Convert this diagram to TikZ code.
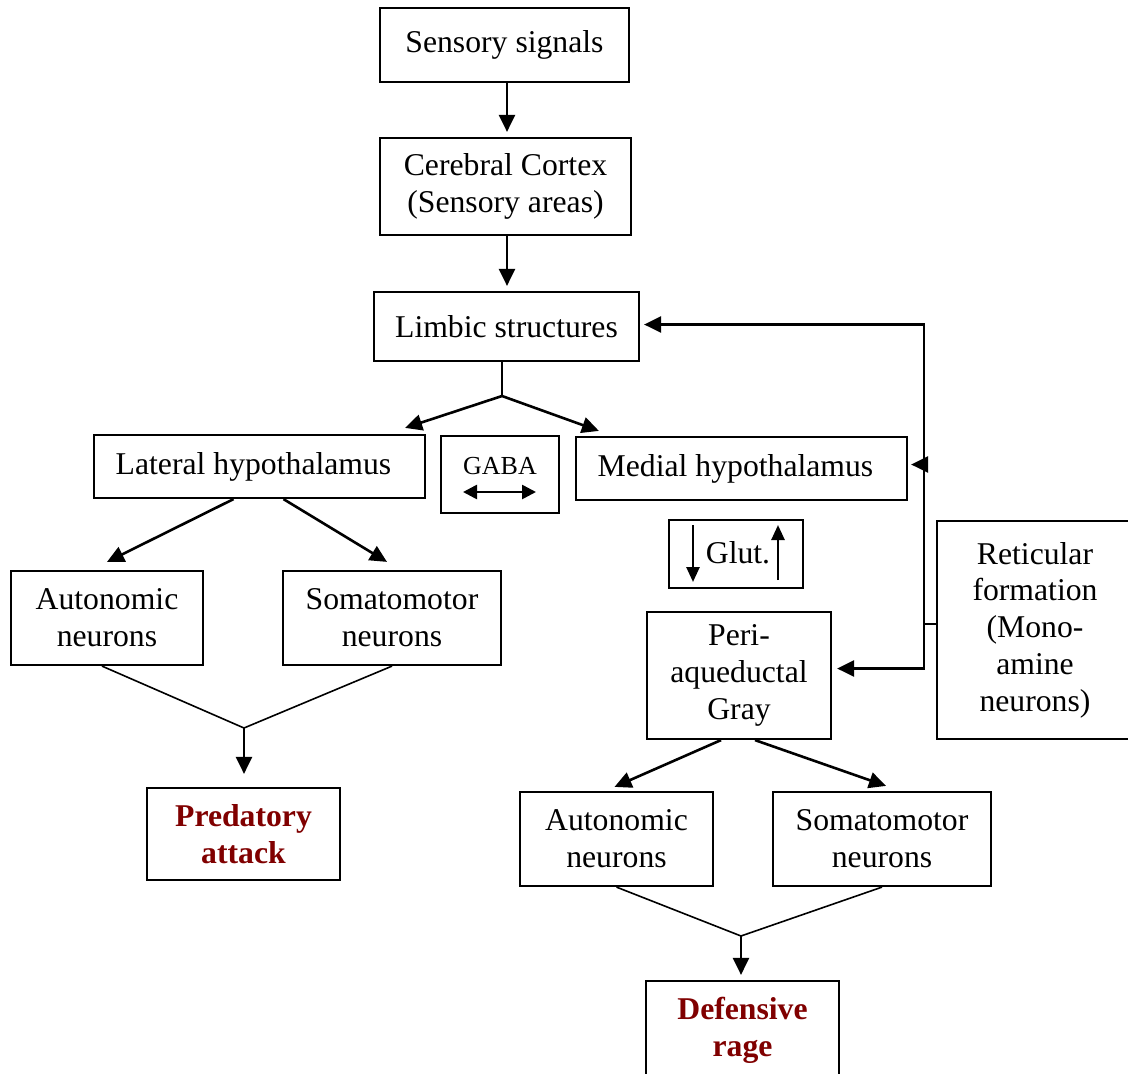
\documentclass[tikz,border=0pt]{standalone}
\usepackage{fontspec}
\setmainfont{Liberation Serif}
\usepackage{xcolor}
\usetikzlibrary{arrows.meta}
\definecolor{ragered}{RGB}{128,0,0}

\begin{document}
\begin{tikzpicture}[x=1pt,y=-1pt,
    box/.style={draw,line width=2.2pt,inner sep=0pt,align=center,font=\fontsize{31.7}{36.7}\selectfont},
    outbox/.style={box,text=ragered,font=\fontsize{31.7}{36.7}\selectfont\bfseries},
    arr/.style={line width=2.6pt,-{Triangle[length=17pt,width=16pt]}},
    mergeline/.style={line width=1.6pt}]
    \useasboundingbox (0,0) rectangle (1128,1074);
    % top chain
    \node[box,minimum width=249,minimum height=74] (sens) at (504.5,45) {Sensory signals};
    \node[box,minimum width=251,minimum height=97] (cortex) at (505.5,186.5) {Cerebral Cortex\\(Sensory areas)};
    \node[box,minimum width=265,minimum height=69] (limbic) at (506.5,326.5) {Limbic structures};
    \draw[arr,shorten >=5pt] ([xshift=2.5pt]sens.south) -- ([xshift=2.5pt]sens.south |- cortex.north);
    \draw[arr,shorten >=5pt] ([xshift=1.5pt]cortex.south) -- ([xshift=1.5pt]cortex.south |- limbic.north);
    % hypothalamus row
    \node[box,minimum width=331,minimum height=63] (lath) at (259.5,466.5) {Lateral hypothalamus\hspace*{12pt}};
    \node[box,minimum width=331,minimum height=63] (medial) at (741.5,468.5) {Medial hypothalamus\hspace*{12pt}};
    \node[box,minimum width=118,minimum height=77] (gaba) at (500,474.5) {};
    \node[font=\fontsize{26}{30}\selectfont,inner sep=0pt] (gabatxt) at (500,466) {GABA};
    \draw[line width=2.6pt,{Triangle[length=14pt,width=14pt]}-{Triangle[length=14pt,width=14pt]}]
        ([xshift=-37pt,yshift=-17.5pt]gaba.center) -- ([xshift=36pt,yshift=-17.5pt]gaba.center);
    \coordinate (lsplit) at (502,396);
    \draw[mergeline] ([xshift=-4.5pt]limbic.south) -- (lsplit);
    \draw[arr] (lsplit) -- ([xshift=-21pt,yshift=6pt]lath.north east);
    \draw[arr] (lsplit) -- ([xshift=24pt,yshift=5pt]medial.north west);
    % glutamate and periaqueductal gray
    \node[box,minimum width=134,minimum height=68] (glut) at (736,554) {};
    \node[font=\fontsize{31.7}{36.7}\selectfont,inner sep=0pt] (gluttxt) at (738,553) {Glut.};
    \draw[arr,-{Triangle[length=15pt,width=13pt]}] ([xshift=-43pt,yshift=29pt]glut.center) -- ([xshift=-43pt,yshift=-28pt]glut.center);
    \draw[arr,-{Triangle[length=15pt,width=13pt]}] ([xshift=42pt,yshift=-26pt]glut.center) -- ([xshift=42pt,yshift=29pt]glut.center);
    \node[box,minimum width=184,minimum height=127] (pag) at (739,675.5) {Peri-\\aqueductal\\Gray};
    \node[box,minimum width=196,minimum height=218] (retic) at (1035,630) {Reticular\\formation\\(Mono-\\amine\\neurons)};
    % reticular feedback
    \coordinate (fb) at (924,624);
    \draw[line width=2.6pt] ([yshift=6pt]retic.west) -- (fb);
    \draw[arr,shorten >=4pt] (fb) |- ([yshift=2pt]limbic.east);
    \draw[arr,shorten >=3pt] (fb) |- ([yshift=4pt]medial.east);
    \draw[arr,shorten >=5pt] (fb) |- ([yshift=7pt]pag.east);
    % predatory branch
    \node[box,minimum width=192,minimum height=94] (autL) at (107,618) {Autonomic\\neurons};
    \node[box,minimum width=218,minimum height=94] (somL) at (392,618) {Somatomotor\\neurons};
    \node[outbox,minimum width=193,minimum height=92] (pred) at (243.5,834) {Predatory\\attack};
    \draw[arr] ([xshift=-26pt]lath.south) -- ([yshift=8pt]autL.north);
    \draw[arr] ([xshift=24pt]lath.south) -- ([xshift=-5pt,yshift=8pt]somL.north);
    \coordinate (pjoin) at (244,728);
    \draw[mergeline] ([xshift=-5pt]autL.south) -- (pjoin) -- (somL.south);
    \draw[arr,shorten >=13pt] (pjoin) -- (pjoin |- pred.north);
    % defensive branch
    \node[box,minimum width=193,minimum height=94] (autR) at (616.5,839) {Autonomic\\neurons};
    \node[box,minimum width=218,minimum height=94] (somR) at (882,839) {Somatomotor\\neurons};
    \node[outbox,minimum width=193,minimum height=98] (def) at (742.5,1030) {Defensive\\rage};
    \draw[arr] ([xshift=-18pt]pag.south) -- ([xshift=-2pt,yshift=4pt]autR.north);
    \draw[arr] ([xshift=16pt]pag.south) -- ([xshift=4pt,yshift=5pt]somR.north);
    \coordinate (djoin) at (741,936);
    \draw[mergeline] (autR.south) -- (djoin) -- (somR.south);
    \draw[arr,shorten >=5pt] (djoin) -- (djoin |- def.north);
\end{tikzpicture}
\end{document}
